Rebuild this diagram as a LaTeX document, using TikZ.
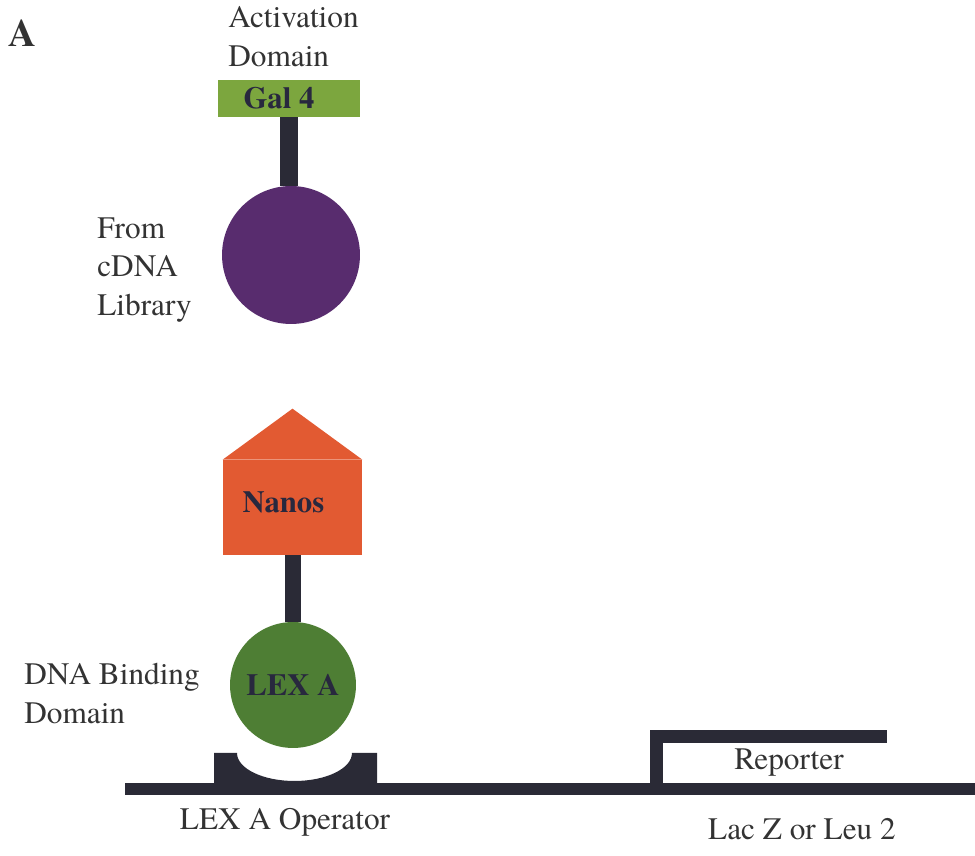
\documentclass[tikz,border=0pt]{standalone}
\usepackage{fontspec}
\setmainfont{texgyretermes}[Extension=.otf, UprightFont=*-regular, BoldFont=*-bold, ItalicFont=*-italic, BoldItalicFont=*-bolditalic]
\usetikzlibrary{positioning}
\definecolor{galgreen}{RGB}{124,166,62}
\definecolor{libpurple}{RGB}{88,44,110}
\definecolor{nanosred}{RGB}{226,90,50}
\definecolor{lexgreen}{RGB}{78,126,52}
\definecolor{dnagray}{RGB}{42,42,54}
\definecolor{inkblue}{RGB}{40,40,62}

\begin{document}
\begin{tikzpicture}[x=0.02cm, y=0.02cm, font=\fontsize{17.8}{22}\selectfont, text=black!80,
  lbl/.style={align=left, inner sep=0pt},
  part/.style={inner sep=0pt, font=\fontsize{17.5}{22}\selectfont\bfseries, text=inkblue},
  ball/.style={part, circle},
  stem/.style={line width=0.36cm, draw=dnagray}]
\useasboundingbox (0,0) rectangle (975,856);
\node[lbl, anchor=base west, font=\fontsize{22}{24}\selectfont\bfseries] (panel) at (8,809) {A};
% prey: activation domain fused to library protein
\node[lbl, anchor=north west] (actlbl) at (228,850) {Activation\\Domain};
\node[part, fill=galgreen, minimum width=2.84cm, minimum height=0.74cm] (gal) at (289,757.5) {\raisebox{0pt}{Gal 4\hspace{0.4cm}}};
\node[ball, fill=libpurple, minimum size=2.76cm] (lib) at (291,601) {};
\node[lbl, anchor=north west] (liblbl) at (97,639) {From\\cDNA\\Library};
\draw[stem] (gal.south) -- (gal.south |- lib.north);
% bait: LexA fused to Nanos
\node[part, fill=nanosred, minimum width=2.78cm, minimum height=1.9cm] (nanos) at (292.5,348.5) {\raisebox{0.22cm}{Nanos\hspace{0.36cm}}};
\fill[nanosred] (nanos.north west) -- ([yshift=1.02cm]nanos.north) -- (nanos.north east) -- cycle;
\node[ball, fill=lexgreen, minimum size=2.52cm] (lexa) at (293,171) {LEX A};
\node[lbl, anchor=north west] (dbdlbl) at (24,193) {DNA Binding\\Domain};
\draw[stem, line width=0.32cm] (nanos.south) -- (nanos.south |- lexa.north);
% DNA with operator and reporter
\fill[dnagray] (125,61) rectangle (975,73);
\fill[dnagray] (214,61) -- (214,103) -- (237,103) arc[start angle=180, end angle=360, x radius=1.15cm, y radius=0.56cm] -- (377,103) -- (377,61) -- cycle;
\draw[dnagray, line width=0.26cm] (656.5,67) -- (656.5,119.5) -- (887,119.5);
\node[lbl, anchor=base] (rep) at (789,86) {Reporter};
\node[lbl, anchor=base] (oplbl) at (285,26) {LEX A Operator};
\node[lbl, anchor=base] (genelbl) at (802,16) {Lac Z or Leu 2};
\end{tikzpicture}
\end{document}
